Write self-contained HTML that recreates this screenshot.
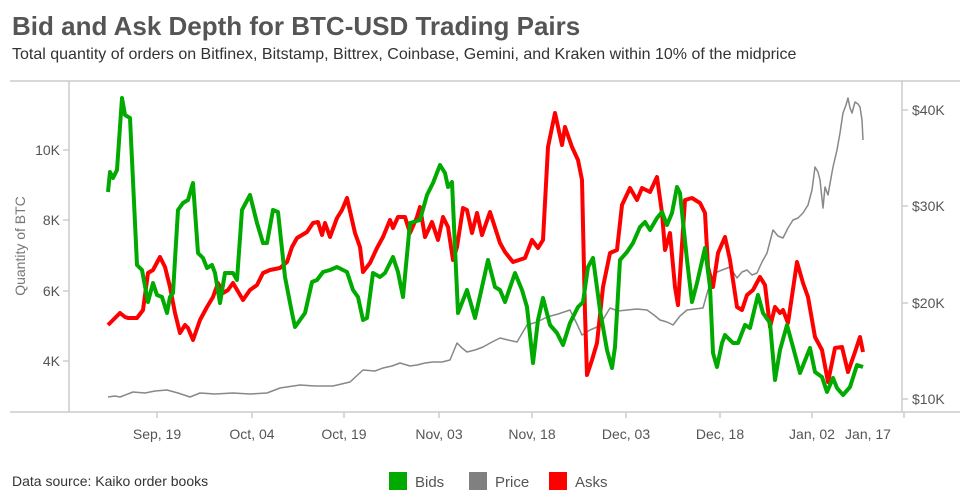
<!DOCTYPE html>
<html><head><meta charset="utf-8"><style>
body{margin:0;background:#fff;}
svg{display:block;font-family:"Liberation Sans",sans-serif;}
</style></head><body>
<svg width="972" height="503" viewBox="0 0 972 503">
<text x="12" y="35" font-size="26" font-weight="bold" fill="#555">Bid and Ask Depth for BTC-USD Trading Pairs</text>
<text x="12" y="59" font-size="16" fill="#333">Total quantity of orders on Bitfinex, Bitstamp, Bittrex, Coinbase, Gemini, and Kraken within 10% of the midprice</text>
<g stroke="#ccc" stroke-width="1.5" fill="none">
<line x1="10" y1="81" x2="960" y2="81"/>
<line x1="10" y1="412" x2="960" y2="412"/>
<line x1="69" y1="81" x2="69" y2="412"/>
<line x1="902" y1="81" x2="902" y2="412"/>
<line x1="63" y1="150" x2="69" y2="150"/><line x1="63" y1="220" x2="69" y2="220"/><line x1="63" y1="291" x2="69" y2="291"/><line x1="63" y1="361" x2="69" y2="361"/>
<line x1="902" y1="110" x2="908" y2="110"/><line x1="902" y1="206" x2="908" y2="206"/><line x1="902" y1="303" x2="908" y2="303"/><line x1="902" y1="399" x2="908" y2="399"/>
<line x1="157" y1="412" x2="157" y2="418"/><line x1="252" y1="412" x2="252" y2="418"/><line x1="344" y1="412" x2="344" y2="418"/><line x1="439" y1="412" x2="439" y2="418"/><line x1="532" y1="412" x2="532" y2="418"/><line x1="626" y1="412" x2="626" y2="418"/><line x1="720" y1="412" x2="720" y2="418"/><line x1="812" y1="412" x2="812" y2="418"/><line x1="904" y1="412" x2="904" y2="418"/>
</g>
<g font-size="14" fill="#555" text-anchor="end">
<text x="60" y="155">10K</text><text x="60" y="225">8K</text><text x="60" y="296">6K</text><text x="60" y="366">4K</text>
</g>
<g font-size="14" fill="#555">
<text x="912" y="115">$40K</text><text x="912" y="211">$30K</text><text x="912" y="308">$20K</text><text x="912" y="404">$10K</text>
</g>
<text transform="translate(25,246) rotate(-90)" font-size="14" fill="#777" text-anchor="middle">Quantity of BTC</text>
<g font-size="14" fill="#555" text-anchor="middle">
<text x="157" y="439">Sep, 19</text><text x="252" y="439">Oct, 04</text><text x="344" y="439">Oct, 19</text><text x="439" y="439">Nov, 03</text><text x="532" y="439">Nov, 18</text><text x="626" y="439">Dec, 03</text><text x="720" y="439">Dec, 18</text><text x="812" y="439">Jan, 02</text><text x="868" y="439">Jan, 17</text>
</g>
<polyline fill="none" stroke="#888" stroke-width="1.5" stroke-linejoin="round" points="108,397 115,396 120,397 133,392 145,393 155,391 167,390 178,393 190,397 200,393 215,394 233,393 250,394 267,393 280,388 300,385 315,386 333,386 350,382 363,370 375,371 383,368 392,366 400,363 410,366 417,365 425,363 433,362 442,362 450,360 457,343 462,348 467,352 475,350 483,347 492,342 500,338 508,340 517,342 527,325 537,322 547,317 558,314 570,310 576,322 582,335 590,330 597,327 604,318 610,308 618,311 627,310 637,309 647,310 654,315 660,320 667,322 673,325 680,316 687,310 695,309 703,308 708,290 712,282 715,273 722,270 730,267 737,278 742,272 747,270 752,275 757,273 762,262 767,253 773,230 778,236 783,238 788,228 793,220 798,218 803,213 808,205 812,190 815,167 818,172 820,180 823,208 825,187 828,195 831,178 833,167 837,150 840,133 843,113 846,105 848,98 850,108 852,113 855,102 858,104 860,107 862,120 863,140"/>
<polyline fill="none" stroke="#ff0000" stroke-width="4" stroke-linejoin="round" points="108,325 113,320 120,313 125,317 128,318 137,318 143,310 148,273 153,270 160,257 165,267 170,287 175,313 180,333 185,325 188,328 193,340 200,320 207,307 213,297 218,283 223,293 228,290 233,283 243,300 250,290 257,285 263,273 270,270 280,268 287,262 292,247 297,238 307,232 313,223 318,222 322,235 325,223 330,237 337,218 342,210 347,198 355,233 360,247 363,272 370,263 377,248 383,237 390,220 393,228 398,217 405,217 410,233 417,217 420,207 425,237 432,222 438,240 443,217 448,227 453,260 457,247 463,208 467,210 472,233 477,213 482,235 490,212 500,243 505,252 513,262 525,258 532,240 538,248 543,240 548,147 555,113 562,145 565,127 572,147 578,160 582,180 585,313 587,375 592,360 597,343 603,287 610,253 617,250 622,205 630,188 637,200 642,188 650,192 657,177 662,213 665,250 670,233 675,287 678,305 685,200 692,198 700,203 705,213 708,267 713,287 718,253 725,237 730,260 737,307 742,310 747,295 753,290 760,277 765,285 770,327 775,307 780,313 783,310 788,323 797,262 803,283 808,297 815,337 822,350 828,382 835,348 842,347 848,372 855,352 860,337 863,352"/>
<polyline fill="none" stroke="#00aa00" stroke-width="4" stroke-linejoin="round" points="108,192 110,172 113,178 117,170 122,98 125,115 130,118 137,265 142,270 148,302 153,283 157,295 162,297 167,313 170,297 173,293 178,210 183,203 188,200 193,183 198,253 203,258 207,268 212,265 215,273 220,303 225,273 233,273 237,280 242,210 250,195 257,223 263,243 267,243 273,210 278,212 285,277 292,313 295,327 300,320 305,313 312,282 317,280 323,272 330,270 337,267 347,272 353,290 358,297 363,320 367,318 373,273 380,277 385,273 393,257 398,272 403,297 410,223 420,220 427,195 433,183 440,165 445,173 448,187 452,182 458,313 467,290 475,318 482,287 488,260 495,287 500,290 505,302 515,273 522,290 527,307 533,363 538,320 543,298 550,325 557,333 563,345 570,323 578,307 583,302 588,267 593,258 600,310 607,350 612,368 615,347 620,260 627,252 633,243 640,227 645,222 650,230 657,218 662,212 667,225 672,213 677,187 680,193 687,260 692,302 697,283 705,248 710,287 713,353 717,367 722,343 725,335 733,343 738,343 745,325 750,328 755,307 758,295 763,313 770,323 775,380 780,350 787,325 793,347 800,373 810,348 815,372 822,377 827,392 833,378 837,388 843,395 850,387 857,365 863,367"/>
<text x="12" y="486" font-size="14" fill="#333">Data source: Kaiko order books</text>
<rect x="389" y="472" width="18" height="18" fill="#00aa00"/>
<text x="415" y="487" font-size="15" fill="#555">Bids</text>
<rect x="469" y="472" width="18" height="18" fill="#808080"/>
<text x="495" y="487" font-size="15" fill="#555">Price</text>
<rect x="549" y="472" width="18" height="18" fill="#ff0000"/>
<text x="575" y="487" font-size="15" fill="#555">Asks</text>
</svg>
</body></html>
